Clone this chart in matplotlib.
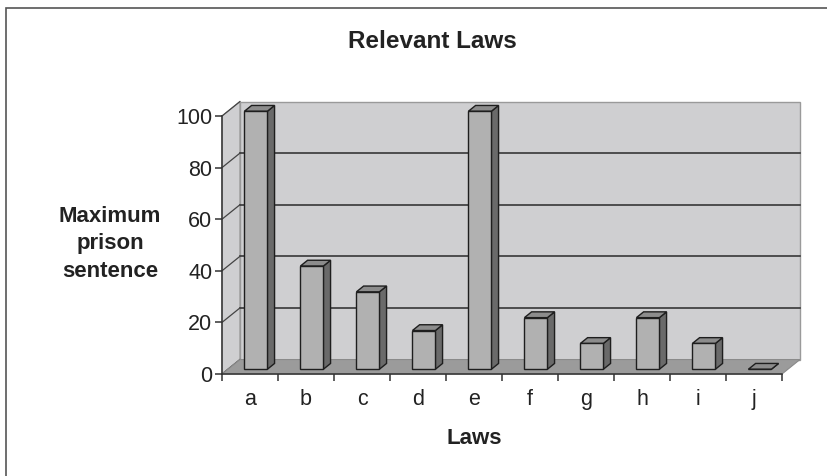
import matplotlib.pyplot as plt
from matplotlib.patches import Polygon, Rectangle

plt.rcParams['font.family'] = ['Liberation Sans', 'DejaVu Sans']

laws = ['a', 'b', 'c', 'd', 'e', 'f', 'g', 'h', 'i', 'j']
sentence = [100, 40, 30, 15, 100, 20, 10, 20, 10, 0]
yticks = [0, 20, 40, 60, 80, 100]

# depth of the pseudo-3d box, in data units
DX, DY = 0.32, 5.6
BW = 0.41          # bar width (fraction of a category)
F0, BD = 0.33, 0.4  # where the bar front sits in depth, and bar depth

fig = plt.figure(figsize=(8.27, 4.76), dpi=100)
fig.patches.append(Rectangle((6 / 827, -0.1), 1.2, (476 - 8) / 476 + 0.1,
                             transform=fig.transFigure, fill=False,
                             edgecolor='#555555', lw=1.2))

ax = fig.add_axes([222 / 827, 102 / 476, 560 / 827, 258 / 476])
ax.set_xlim(0, len(laws))
ax.set_ylim(0, 100)
ax.patch.set_visible(False)

n = len(laws)
wall = '#cfcfd1'
# left wall, back wall, floor
ax.add_patch(Polygon([(0, 0), (0, 100), (DX, 100 + DY), (DX, DY)],
                     closed=True, fc=wall, ec='#9a9a9a', lw=0.8, clip_on=False, zorder=0))
ax.add_patch(Polygon([(DX, DY), (n + DX, DY), (n + DX, 100 + DY), (DX, 100 + DY)],
                     closed=True, fc=wall, ec='#9a9a9a', lw=1, clip_on=False, zorder=0))
ax.add_patch(Polygon([(0, 0), (n, 0), (n + DX, DY), (DX, DY)],
                     closed=True, fc='#9b9b9b', ec='#8a8a8a', lw=0.8, clip_on=False, zorder=1))

# gridlines on the back and left walls
for v in yticks[1:-1]:
    ax.plot([DX, n + DX], [v + DY, v + DY], color='#2a2a2a', lw=1.1, clip_on=False, zorder=0.5)
for v in yticks:
    ax.plot([0, DX], [v, v + DY], color='#444444', lw=0.9, clip_on=False, zorder=0.5)

# bars: front, side and top faces
for i, v in enumerate(sentence):
    x0 = i + 0.5 - BW / 2 + F0 * DX
    y0 = F0 * DY
    ddx, ddy = BD * DX, BD * DY
    kw = dict(closed=True, ec='#1e1e1e', lw=1, clip_on=False, zorder=3)
    ax.add_patch(Polygon([(x0 + BW, y0), (x0 + BW + ddx, y0 + ddy),
                          (x0 + BW + ddx, y0 + v + ddy), (x0 + BW, y0 + v)],
                         fc='#6a6a6a', **kw))
    ax.add_patch(Polygon([(x0, y0 + v), (x0 + BW, y0 + v),
                          (x0 + BW + ddx, y0 + v + ddy), (x0 + ddx, y0 + v + ddy)],
                         fc='#8c8c8c', **kw))
    ax.add_patch(Polygon([(x0, y0), (x0 + BW, y0), (x0 + BW, y0 + v), (x0, y0 + v)],
                         fc='#b1b1b1', **kw))

for s in ['top', 'right']:
    ax.spines[s].set_visible(False)
for s in ['left', 'bottom']:
    ax.spines[s].set_color('#333333')
    ax.spines[s].set_linewidth(1.1)
    ax.spines[s].set_zorder(2)

ax.set_yticks(yticks)
ax.set_yticklabels([str(t) for t in yticks], fontsize=15.5, color='#222222')
ax.set_xticks(range(n + 1))
ax.set_xticklabels([])
ax.set_xticks([i + 0.5 for i in range(n)], minor=True)
ax.set_xticklabels(laws, minor=True, fontsize=15.5, color='#222222')
ax.tick_params(axis='y', length=5, width=1.1, color='#333333', pad=2)
ax.tick_params(axis='x', which='major', length=5, width=1.1, color='#333333')
ax.tick_params(axis='x', which='minor', length=0, pad=11)

fig.text(432 / 827, 1 - 41 / 476, 'Relevant Laws', ha='center', va='center',
         fontsize=17.5, fontweight='bold', color='#222222')
fig.text(474 / 827, 1 - 438 / 476, 'Laws', ha='center', va='center',
         fontsize=16, fontweight='bold', color='#222222')
fig.text(110 / 827, 1 - 244 / 476, 'Maximum\nprison\nsentence', ha='center', va='center',
         fontsize=16, fontweight='bold', color='#222222', linespacing=1.38)

fig.savefig('out.png', dpi=100)
